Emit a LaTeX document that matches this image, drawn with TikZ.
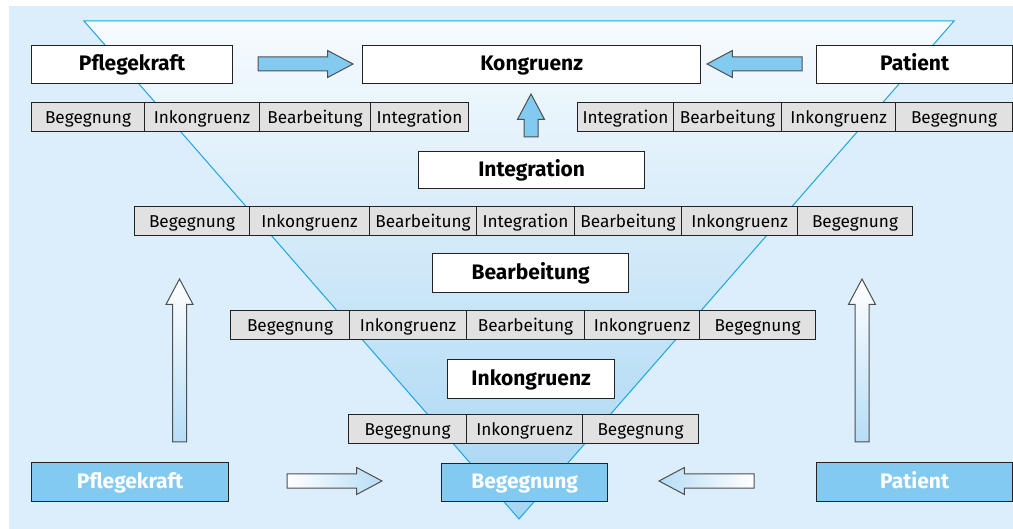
\documentclass[tikz,border=0pt]{standalone}
\usepackage{fontspec}
\setmainfont{Fira Sans}
\usepackage{xcolor}
\usepackage{tikz}
\usetikzlibrary{shapes.arrows, positioning, calc}
\definecolor{C_BG}{HTML}{DCEEFB}
\definecolor{C_TRITOP}{HTML}{F7FBFE}
\definecolor{C_TRIBOT}{HTML}{A6D5F3}
\definecolor{C_EDGE}{HTML}{1CA6E4}
\definecolor{C_BLUE}{HTML}{82CAF0}
\definecolor{C_PALE}{HTML}{B6DDF6}
\definecolor{C_CELL}{HTML}{E1E1E1}
\definecolor{C_LINE}{HTML}{222222}

\begin{document}
\begin{tikzpicture}[
  x=1pt, y=-1pt,
  box/.style={draw=C_LINE, line width=1.3pt, fill=white, anchor=north west,
              inner sep=0pt, font=\fontsize{21}{24}\selectfont\bfseries, text centered,
              text height=16.5pt, text depth=4pt},
  bluebox/.style={box, fill=C_BLUE, text=white},
  cell/.style={draw=C_LINE, line width=1pt, fill=C_CELL, anchor=north west,
               inner sep=0pt, minimum height=29pt, font=\fontsize{17.2}{20}\selectfont,
               text height=16.3pt, text depth=3pt},
  fat/.style={single arrow, draw=C_LINE!80, line width=1pt, anchor=tail,
              inner xsep=0pt, inner ysep=6.5pt, outer sep=0pt,
              single arrow head extend=6.5pt, single arrow tip angle=56},
  vfat/.style={fat, inner xsep=6.5pt, inner ysep=0pt, shape border rotate=90},
]
\useasboundingbox (0,0) rectangle (1013,529);

%% Background and funnel
\fill[C_BG] (9,6) rectangle (1013,529);
\coordinate (ftl) at (84,21);
\coordinate (ftr) at (954,21);
\coordinate (fap) at (519,519);
\shade[top color=C_TRITOP, bottom color=C_TRIBOT] (ftl) -- (ftr) -- (fap) -- cycle;
\draw[C_EDGE, line width=1pt] (ftl) -- (ftr) -- (fap) -- cycle;

%% Top row
\node[box, minimum width=201pt, minimum height=38pt] (pktop)  at (31,45)  {Pflegekraft};
\node[box, minimum width=338pt, minimum height=38pt] (kong)   at (362,45) {Kongruenz};
\node[box, minimum width=196pt, minimum height=38pt] (pattop) at (816,45) {Patient};

%% Stages
\node[box, minimum width=226pt, minimum height=37pt] (integ) at (418,151) {Integration};
\node[box, minimum width=196pt, minimum height=39pt] (bearb) at (432,253) {Bearbeitung};
\node[box, minimum width=167pt, minimum height=39pt] (inkon) at (447,359) {Inkongruenz};

%% Bottom row
\node[bluebox, minimum width=197pt, minimum height=39pt] (pkbot)  at (31,462)  {Pflegekraft};
\node[bluebox, minimum width=166pt, minimum height=38pt] (beg)    at (441,463) {Begegnung};
\node[bluebox, minimum width=196pt, minimum height=39pt] (patbot) at (816,462) {Patient};

%% Cell rows
\foreach \x/\w/\t [count=\i] in {31/113/Begegnung, 144/115/Inkongruenz,
    259/111/Bearbeitung, 370/98/Integration}
  \node[cell, minimum width=\w pt] (tl\i) at (\x,102) {\t};
\foreach \x/\w/\t [count=\i] in {577/96/Integration, 673/108/Bearbeitung,
    781/114/Inkongruenz, 895/117/Begegnung}
  \node[cell, minimum width=\w pt] (tr\i) at (\x,102) {\t};
\foreach \x/\w/\t [count=\i] in {134/115/Begegnung, 249/120/Inkongruenz,
    369/107/Bearbeitung, 476/98/Integration, 574/107/Bearbeitung,
    681/116/Inkongruenz, 797/115/Begegnung}
  \node[cell, minimum width=\w pt] (ra\i) at (\x,206) {\t};
\foreach \x/\w/\t [count=\i] in {230/119/Begegnung, 349/117/Inkongruenz,
    466/118/Bearbeitung, 584/115/Inkongruenz, 699/116/Begegnung}
  \node[cell, minimum width=\w pt] (rb\i) at (\x,310) {\t};
\foreach \x/\w/\t [count=\i] in {348/118/Begegnung, 466/116/Inkongruenz,
    582/116/Begegnung}
  \node[cell, minimum width=\w pt] (rc\i) at (\x,414) {\t};

%% Block arrows
\node[fat, fill=C_BLUE, minimum height=95pt] (akl) at (258,64) {};
\node[fat, fill=C_BLUE, minimum height=95pt, shape border rotate=180] (akr) at (802,64) {};
\node[vfat, fill=C_BLUE, minimum height=43pt] (aki) at (531,137) {};
\node[vfat, top color=white, bottom color=C_PALE, minimum height=163pt] (aupl) at (179.5,442) {};
\node[vfat, top color=white, bottom color=C_PALE, minimum height=163pt] (aupr) at (862,442) {};
\node[fat, left color=white, right color=C_PALE, minimum height=95pt] (abl) at (287,481) {};
\node[fat, left color=C_PALE, right color=white, minimum height=95pt,
      shape border rotate=180] (abr) at (754,481) {};

\end{tikzpicture}
\end{document}
